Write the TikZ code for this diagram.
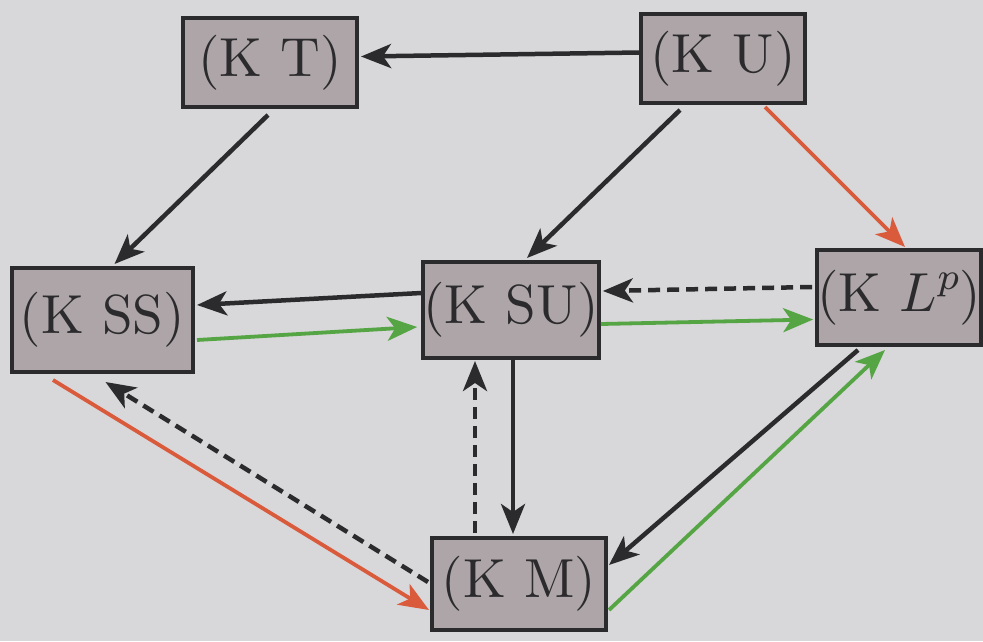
\documentclass[tikz,border=0pt]{standalone}
\usetikzlibrary{arrows.meta,calc}
\definecolor{paper}{HTML}{D8D7D9}
\definecolor{boxfill}{HTML}{ADA5A8}
\definecolor{ink}{HTML}{2B2A2C}
\definecolor{redarr}{HTML}{DA5A3C}
\definecolor{greenarr}{HTML}{55A544}
\font\kfont=cmr10 at 55pt
\font\kital=cmmi10 at 55pt
\font\kitsup=cmmi7 at 38pt
\begin{document}
\begin{tikzpicture}[x=1pt,y=-1pt,
  kbox/.style={draw=ink,line width=4pt,fill=boxfill,inner sep=0pt,
    font=\kfont,text=ink},
  arr/.style={line width=4.5pt,-{Stealth[length=30pt,width=24pt,inset=8pt]}},
  blk/.style={arr,ink},
  dsh/.style={arr,ink,dash pattern=on 12pt off 7pt},
  red/.style={arr,redarr,line width=3.8pt},
  grn/.style={arr,greenarr,line width=3.8pt}]
\fill[paper] (0,0) rectangle (983,641);
\useasboundingbox (0,0) rectangle (983,641);

\node[kbox,minimum width=174pt,minimum height=89pt] (KT) at (270,62.5) {(K T)};
\node[kbox,minimum width=164pt,minimum height=89pt] (KU) at (723,58.5) {(K U)};
\node[kbox,minimum width=181pt,minimum height=104pt] (KSS) at (102.5,320) {(K SS)};
\node[kbox,minimum width=172pt,minimum height=96pt] (KSU) at (511,310) {(K SU)};
\node[kbox,minimum width=162pt,minimum height=95pt] (KLp) at (899,297.5) {(K {\kital L}\raisebox{22pt}{\kitsup p})};
\node[kbox,minimum width=174pt,minimum height=92pt] (KM) at (519,584) {(K M)};

\draw[blk] ([yshift=6pt]KU.west) -- ([yshift=6pt,xshift=2pt]KT.east);
\draw[blk] ([xshift=-2pt,yshift=-6pt]KT.south) -- ([xshift=12pt,yshift=2pt]KSS.north);
\draw[blk] ([xshift=-43pt,yshift=-5pt]KU.south) -- ([xshift=16pt,yshift=2pt]KSU.north);
\draw[red] ([xshift=42pt,yshift=-2pt]KU.south) -- ([xshift=6pt,yshift=1pt]KLp.north);
\draw[dsh] ([yshift=10.5pt,xshift=-3pt]KLp.west) -- ([yshift=19pt,xshift=2pt]KSU.east);
\draw[grn] ([yshift=-14pt]KSU.east) -- ([yshift=-22pt,xshift=-2pt]KLp.west);
\draw[blk] ([yshift=17pt]KSU.west) -- ([yshift=15pt,xshift=2pt]KSS.east);
\draw[grn] ([yshift=-20pt,xshift=2pt]KSS.east) -- ([yshift=-17pt,xshift=-4pt]KSU.west);
\draw[blk] ([xshift=2pt]KSU.south) -- ([xshift=-6pt,yshift=2pt]KM.north);
\draw[dsh] ([xshift=-44pt,yshift=3pt]KM.north) -- ([xshift=-36pt,yshift=-1pt]KSU.south);
\draw[red] ([xshift=43pt,yshift=-6pt]KSS.south west) -- ([yshift=-26pt,xshift=-1pt]KM.west);
\draw[dsh] ([yshift=2pt,xshift=-2pt]KM.west) -- ([xshift=3pt,yshift=-8pt]KSS.south);
\draw[blk] ([xshift=-41pt,yshift=-3pt]KLp.south) -- ([yshift=19pt,xshift=1pt]KM.east);
\draw[grn] ([yshift=-26pt,xshift=1pt]KM.east) -- ([xshift=-14pt,yshift=-3pt]KLp.south);
\end{tikzpicture}
\end{document}
